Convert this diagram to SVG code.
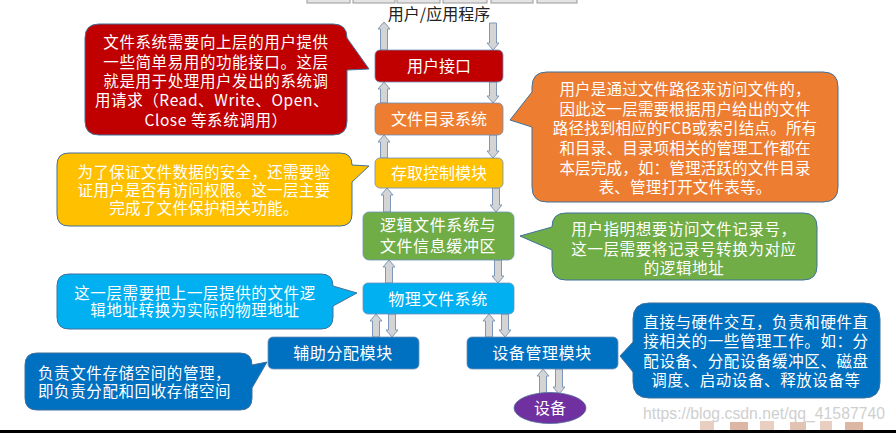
<svg xmlns="http://www.w3.org/2000/svg" width="896" height="433" viewBox="0 0 896 433">
<defs>
<style>
text{font-family:"Noto Sans CJK SC","Liberation Sans",sans-serif;fill:#fff;font-size:16px;}
.c{text-anchor:middle;}
.ct{font-size:15.5px;letter-spacing:0.6px;text-anchor:middle;}
.lt{font-size:15.5px;letter-spacing:0.6px;}
.box{stroke:#6d8fb8;stroke-width:0.8;}
.co{stroke:#41719C;stroke-width:1;}
.ar{fill:#d4d4d4;stroke:#7d98b8;stroke-width:1;}
</style>
</defs>
<rect width="896" height="433" fill="#fff"/>
<!-- top cropped strip -->
<g fill="#e4e4e4" stroke="#9a9a9a" stroke-width="1">
<rect x="307" y="-3" width="43" height="6"/><rect x="353" y="-3" width="42" height="6"/><rect x="397" y="-3" width="43" height="6"/><rect x="443" y="-3" width="44" height="6"/><rect x="491" y="-3" width="42" height="6"/><rect x="537" y="-3" width="40" height="6"/>
</g>
<text x="439" y="20" class="c" style="fill:#222;font-size:16px">用户/应用程序</text>

<g id="connectors">
<path class="ar" d="M384,22 L390,29 L387.5,29 L387.5,50 L380.5,50 L380.5,29 L378,29 Z"/>
<path class="ar" d="M493,50 L499,43 L496.5,43 L496.5,23 L489.5,23 L489.5,43 L487,43 Z"/>
<path class="ar" d="M384,82 L390,89 L387.5,89 L387.5,103 L380.5,103 L380.5,89 L378,89 Z"/>
<path class="ar" d="M493,103 L499,96 L496.5,96 L496.5,82 L489.5,82 L489.5,96 L487,96 Z"/>
<path class="ar" d="M384,135 L390,142 L387.5,142 L387.5,158 L380.5,158 L380.5,142 L378,142 Z"/>
<path class="ar" d="M493,158 L499,151 L496.5,151 L496.5,135 L489.5,135 L489.5,151 L487,151 Z"/>
<path class="ar" d="M387,188 L393,195 L390.5,195 L390.5,212 L383.5,212 L383.5,195 L381,195 Z"/>
<path class="ar" d="M496,212 L502,205 L499.5,205 L499.5,188 L492.5,188 L492.5,205 L490,205 Z"/>
<path class="ar" d="M389,260 L395,267 L392.5,267 L392.5,283 L385.5,283 L385.5,267 L383,267 Z"/>
<path class="ar" d="M498,283 L504,276 L501.5,276 L501.5,260 L494.5,260 L494.5,276 L492,276 Z"/>
<path class="ar" d="M376,314 L382,321 L379.5,321 L379.5,337 L372.5,337 L372.5,321 L370,321 Z"/>
<path class="ar" d="M392,337 L398,330 L395.5,330 L395.5,314 L388.5,314 L388.5,330 L386,330 Z"/>
<path class="ar" d="M489,314 L495,321 L492.5,321 L492.5,337 L485.5,337 L485.5,321 L483,321 Z"/>
<path class="ar" d="M505,337 L511,330 L508.5,330 L508.5,314 L501.5,314 L501.5,330 L499,330 Z"/>
<path class="ar" d="M543,369 L549,376 L546.5,376 L546.5,394 L539.5,394 L539.5,376 L537,376 Z"/>
<path class="ar" d="M559,394 L565,387 L562.5,387 L562.5,369 L555.5,369 L555.5,387 L553,387 Z"/>
</g>

<g id="n-user-if">
<rect class="box" x="375" y="50" width="128" height="32" rx="5" fill="#C00000"/>
<text x="439" y="72" class="c">用户接口</text>
</g>
<g id="n-dir">
<rect class="box" x="375" y="103" width="128" height="32" rx="5" fill="#ED7D31"/>
<text x="439" y="125" class="c">文件目录系统</text>
</g>
<g id="n-access">
<rect class="box" x="375" y="158" width="128" height="30" rx="5" fill="#FFC000"/>
<text x="439" y="179" class="c">存取控制模块</text>
</g>
<g id="n-logic">
<rect class="box" x="363" y="212" width="151" height="48" rx="6" fill="#70AD47"/>
<text x="438" y="231" class="c" style="letter-spacing:0.6px">逻辑文件系统与</text>
<text x="438" y="252" class="c" style="letter-spacing:0.6px">文件信息缓冲区</text>
</g>
<g id="n-phys">
<rect class="box" x="363" y="283" width="151" height="31" rx="5" fill="#00B0F0"/>
<text x="438" y="305" class="c" style="letter-spacing:0.6px">物理文件系统</text>
</g>
<g id="n-alloc">
<rect class="box" x="268" y="337" width="151" height="32" rx="5" fill="#0070C0"/>
<text x="343" y="359" class="c" style="letter-spacing:0.6px">辅助分配模块</text>
</g>
<g id="n-devmgr">
<rect class="box" x="467" y="337" width="151" height="32" rx="5" fill="#0070C0"/>
<text x="542" y="359" class="c" style="letter-spacing:0.6px">设备管理模块</text>
</g>
<g id="n-dev">
<ellipse cx="550" cy="408" rx="36" ry="15.5" fill="#7030A0" stroke="#4f6f9a" stroke-width="0.8"/>
<text x="550" y="414" class="c">设备</text>
</g>

<g id="c-red">
<path class="co" fill="#C00000" d="M99,24 H333 Q347,24 347,38 L369,69 L347,70 V121 Q347,135 333,135 H99 Q85,135 85,121 V38 Q85,24 99,24 Z"/>
<text x="216" y="48" class="ct">文件系统需要向上层的用户提供</text>
<text x="216" y="68" class="ct">一些简单易用的功能接口。这层</text>
<text x="216" y="87" class="ct">就是用于处理用户发出的系统调</text>
<text x="212" y="106" class="ct">用请求（Read、Write、Open、</text>
<text x="216" y="126" class="ct">Close 等系统调用）</text>
</g>
<g id="c-orange">
<path class="co" fill="#ED7D31" d="M547,72 H823 Q838,72 838,87 V187 Q838,202 823,202 H547 Q532,202 532,187 V127 L510,120 L532,92 V87 Q532,72 547,72 Z"/>
<text x="685" y="95" class="ct" style="letter-spacing:0.2px">用户是通过文件路径来访问文件的，</text>
<text x="685" y="115" class="ct" style="letter-spacing:0.2px">因此这一层需要根据用户给出的文件</text>
<text x="685" y="134" class="ct" style="letter-spacing:0.2px">路径找到相应的FCB或索引结点。所有</text>
<text x="685" y="154" class="ct" style="letter-spacing:0.2px">和目录、目录项相关的管理工作都在</text>
<text x="685" y="174" class="ct" style="letter-spacing:0.2px">本层完成，如：管理活跃的文件目录</text>
<text x="685" y="193" class="ct" style="letter-spacing:0.2px">表、管理打开文件表等。</text>
</g>
<g id="c-gold">
<path class="co" fill="#FFC000" d="M69,153 H340 Q352,153 352,165 L369,166 L352,182 V214 Q352,226 340,226 H69 Q57,226 57,214 V165 Q57,153 69,153 Z"/>
<text x="204" y="178" class="ct" style="letter-spacing:0.3px">为了保证文件数据的安全，还需要验</text>
<text x="204" y="196" class="ct" style="letter-spacing:0.3px">证用户是否有访问权限。这一层主要</text>
<text x="204" y="214" class="ct" style="letter-spacing:0.3px">完成了文件保护相关功能。</text>
</g>
<g id="c-green">
<path class="co" fill="#70AD47" d="M566,213 H803 Q817,213 817,227 V266 Q817,280 803,280 H566 Q552,280 552,266 V250 L520,236 L552,227 Q552,213 566,213 Z"/>
<text x="684" y="235" class="ct">用户指明想要访问文件记录号，</text>
<text x="684" y="255" class="ct">这一层需要将记录号转换为对应</text>
<text x="684" y="274" class="ct">的逻辑地址</text>
</g>
<g id="c-lblue">
<path class="co" fill="#00B0F0" d="M69,274 H321 Q333,274 333,286 L357,293 L333,306 V317 Q333,329 321,329 H69 Q57,329 57,317 V286 Q57,274 69,274 Z"/>
<text x="195" y="299" class="ct">这一层需要把上一层提供的文件逻</text>
<text x="195" y="316" class="ct">辑地址转换为实际的物理地址</text>
</g>
<g id="c-blue-left">
<path class="co" fill="#0070C0" d="M37,353 H240 Q252,353 252,365 L267,362 L252,388 V398 Q252,410 240,410 H37 Q25,410 25,398 V365 Q25,353 37,353 Z"/>
<text x="38" y="379" class="lt">负责文件存储空间的管理，</text>
<text x="38" y="397" class="lt">即负责分配和回收存储空间</text>
</g>
<g id="c-blue-right">
<path class="co" fill="#0070C0" d="M649,303 H864 Q880,303 880,319 V382 Q880,398 864,398 H649 Q633,398 633,382 V372 L620,356 L633,342 V319 Q633,303 649,303 Z"/>
<text x="756" y="328" class="ct">直接与硬件交互，负责和硬件直</text>
<text x="756" y="347" class="ct">接相关的一些管理工作。如：分</text>
<text x="756" y="367" class="ct">配设备、分配设备缓冲区、磁盘</text>
<text x="756" y="386" class="ct">调度、启动设备、释放设备等</text>
</g>

<!-- watermark and bottom edge -->
<g fill="#e9cfc2">
<rect x="700" y="421" width="14" height="9"/><rect x="730" y="422" width="18" height="8" fill="#dcb7a6"/><rect x="760" y="421" width="14" height="9"/><rect x="790" y="422" width="16" height="8" fill="#e2c2b2"/><rect x="820" y="421" width="12" height="9"/><rect x="845" y="422" width="18" height="8" fill="#dcb7a6"/>
</g>
<text x="643" y="419" textLength="242" lengthAdjust="spacingAndGlyphs" style="fill:#cfcfcf;font-family:'Liberation Sans',sans-serif;font-size:17px">https://blog.csdn.net/qq_41587740</text>
<rect x="0" y="430" width="896" height="3" fill="#000"/>
</svg>
